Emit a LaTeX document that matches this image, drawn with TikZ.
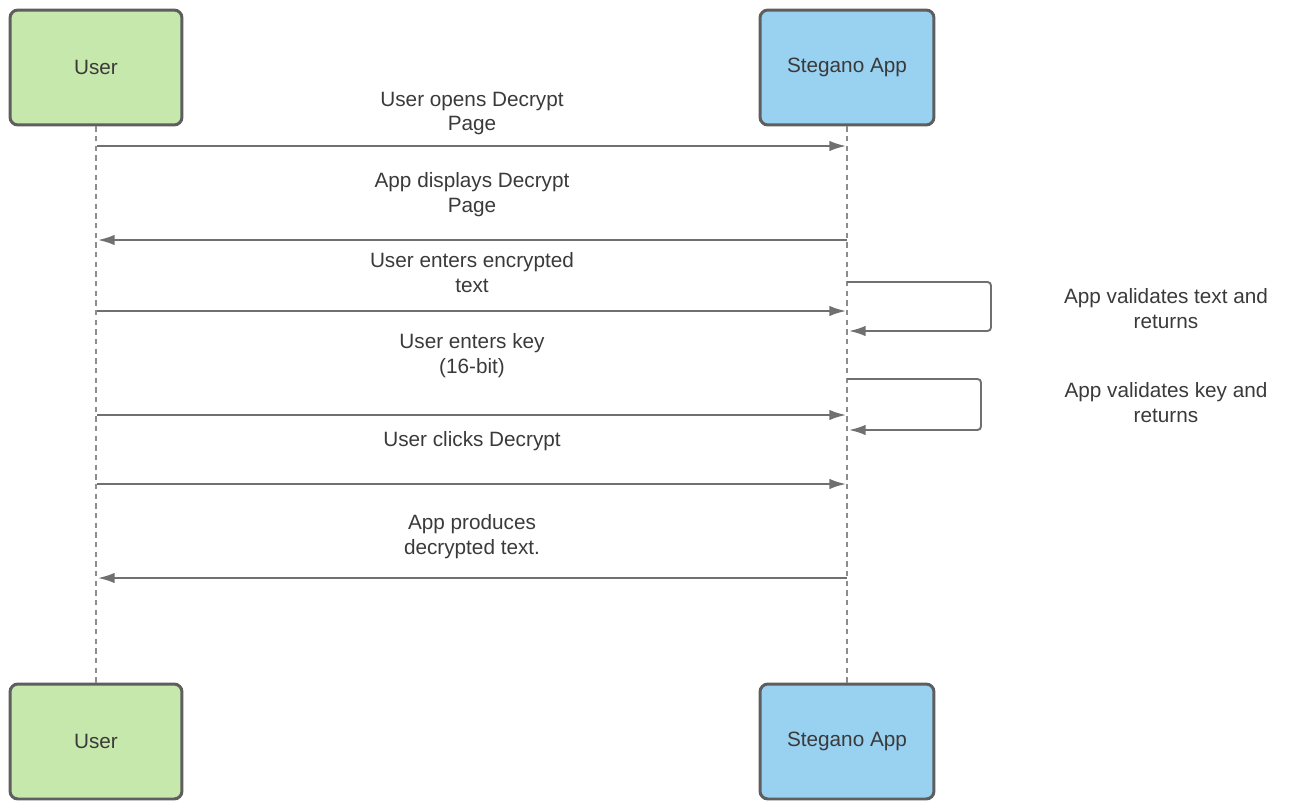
\documentclass[tikz,border=0pt]{standalone}
\usepackage{fontspec}
\setmainfont{Liberation Sans}
\usetikzlibrary{arrows.meta}
\definecolor{usergreen}{HTML}{C7E8AC}
\definecolor{appblue}{HTML}{99D1F1}
\definecolor{edge}{HTML}{5E5E5E}
\definecolor{wire}{HTML}{707070}
\definecolor{ink}{HTML}{3A3A3A}
\tikzset{
  >={Latex[length=9.5pt,width=6pt]},
}
\tikzstyle{actor}=[draw=edge,line width=1.7pt,rounded corners=4.5pt,
  minimum width=3.44cm,minimum height=2.3cm,text=ink]
\tikzstyle{lifeline}=[wire!80,line width=1.1pt,dash pattern=on 3pt off 2.5pt]
\tikzstyle{msg}=[wire,line width=1.1pt,->]
\tikzstyle{every node}=[font=\fontsize{11.8}{14.2}\selectfont,text=ink,align=center]

\begin{document}
\begin{tikzpicture}[x=0.02cm,y=-0.02cm]
    \useasboundingbox (0,0) rectangle (1292,801);
    % participants, top and bottom
    \node[actor,fill=usergreen] (usertop) at (96,67.5) {User};
    \node[actor,fill=appblue,minimum width=3.48cm] (apptop) at (847,67.5) {Stegano App};
    \node[actor,fill=usergreen] (userbot) at (96,741.5) {User};
    \node[actor,fill=appblue,minimum width=3.48cm] (appbot) at (847,741.5) {Stegano App};
    \draw[lifeline] (usertop.south) -- (userbot.north);
    \draw[lifeline] (apptop.south) -- (appbot.north);
    % message end points on the lifelines
    \foreach \n/\y in {1/146,2/240,3/311,4/415,5/484,6/578}{
      \coordinate (u\n) at (97,\y);
      \coordinate (a\n) at (846,\y);
      \coordinate (au\n) at (847,\y);
      \coordinate (ua\n) at (98,\y);
    }
    \draw[msg] (u1)--(a1);
    \draw[msg] (au2)--(ua2);
    \draw[msg] (u3)--(a3);
    \draw[msg] (u4)--(a4);
    \draw[msg] (u5)--(a5);
    \draw[msg] (au6)--(ua6);
    \node (m1) at (472,113.5) {User opens Decrypt\\Page};
    \node (m2) at (472,195) {App displays Decrypt\\Page};
    \node (m3) at (472,272.5) {User enters encrypted\\text};
    \node (m4) at (472,356) {User enters key\\(16-bit)};
    \node (m5) at (472,441) {User clicks Decrypt};
    \node (m6) at (472,536.5) {App produces\\decrypted text.};
    % self calls of the app
    \coordinate (s1) at (847,282);
    \coordinate (e1) at (849,331);
    \coordinate (s2) at (847,379);
    \coordinate (e2) at (849,430);
    \draw[msg,rounded corners=2pt] (s1) -- ++(144,0) |- (e1);
    \draw[msg,rounded corners=2pt] (s2) -- ++(134,0) |- (e2);
    \node (v1) at (1166,308.5) {App validates text and\\returns};
    \node (v2) at (1166,402.5) {App validates key and\\returns};
\end{tikzpicture}
\end{document}
